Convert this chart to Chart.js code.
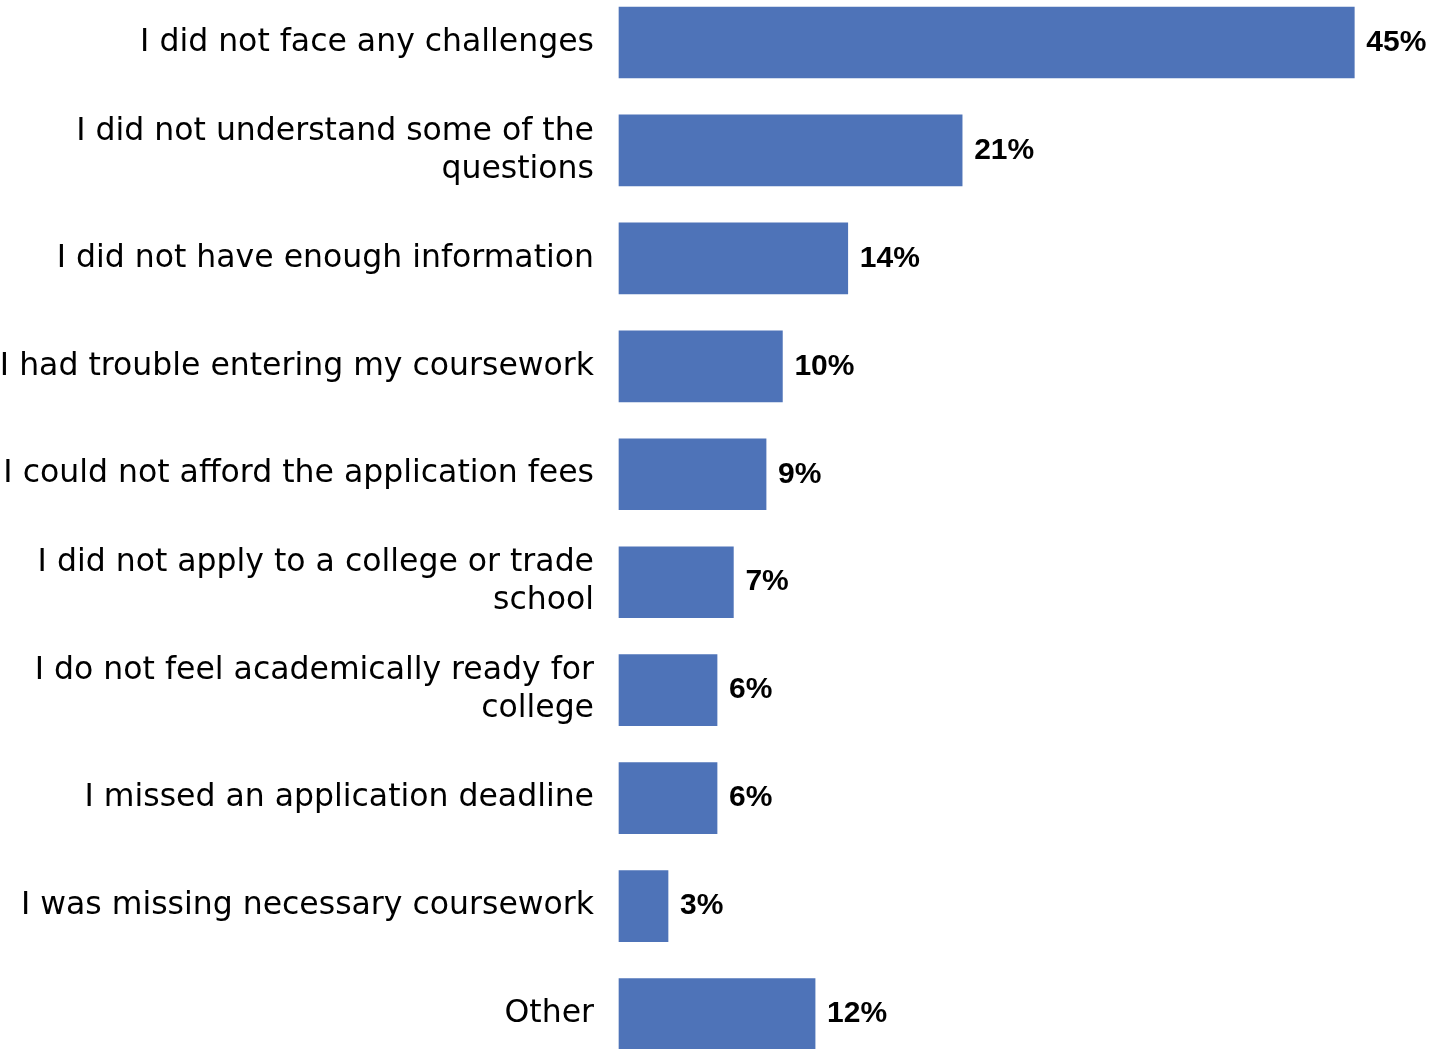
<!DOCTYPE html>
<html>
<head>
<meta charset="utf-8">
<script src="https://cdn.jsdelivr.net/npm/chart.js@4/dist/chart.umd.min.js"></script>
<style>
  html, body { margin: 0; padding: 0; background: #ffffff; }
  #wrap { width: 1446px; height: 1049px; position: relative; }
</style>
</head>
<body>
<div id="wrap"><canvas id="chart"></canvas></div>
<script>
// Survey responses: challenges faced when applying
const categories = [
  'I did not face any challenges',
  ['I did not understand some of the', 'questions'],
  'I did not have enough information',
  'I had trouble entering my coursework',
  'I could not afford the application fees',
  ['I did not apply to a college or trade', 'school'],
  ['I do not feel academically ready for', 'college'],
  'I missed an application deadline',
  'I was missing necessary coursework',
  'Other'
];
const shares = [45, 21, 14, 10, 9, 7, 6, 6, 3, 12];

const LABEL_FONT = '"DejaVu Sans", sans-serif';
const VALUE_FONT = '"Liberation Sans", Arial, sans-serif';

// Draws the bold percentage just past the end of each bar
const valueLabels = {
  id: 'valueLabels',
  afterDatasetsDraw(chart) {
    const ctx = chart.ctx;
    const meta = chart.getDatasetMeta(0);
    ctx.save();
    ctx.font = 'bold 30px ' + VALUE_FONT;
    ctx.fillStyle = '#000000';
    ctx.textAlign = 'left';
    ctx.textBaseline = 'middle';
    meta.data.forEach((bar, i) => {
      ctx.fillText(shares[i] + '%', bar.x + 12, bar.y);
    });
    ctx.restore();
  }
};

new Chart(document.getElementById('chart'), {
  type: 'bar',
  data: {
    labels: categories,
    datasets: [{
      data: shares,
      backgroundColor: '#4E73B8',
      borderWidth: 0,
      barThickness: 71,
      clip: false
    }]
  },
  options: {
    indexAxis: 'y',
    responsive: true,
    maintainAspectRatio: false,
    animation: false,
    layout: { padding: { top: 42.5, bottom: 35, left: 0, right: 10 } },
    plugins: {
      legend: { display: false },
      tooltip: { enabled: false }
    },
    scales: {
      x: {
        display: false,
        min: 0,
        max: 50
      },
      y: {
        offset: false,
        grid: { display: false, drawTicks: false },
        border: { display: false },
        afterFit(scale) {
          scale.width = 619;
          scale.paddingTop = 0;
          scale.paddingBottom = 0;
        },
        ticks: {
          padding: 25,
          color: '#000000',
          font: { family: LABEL_FONT, size: 31.5, lineHeight: 1.206 }
        }
      }
    }
  },
  plugins: [valueLabels]
});
</script>
</body>
</html>
